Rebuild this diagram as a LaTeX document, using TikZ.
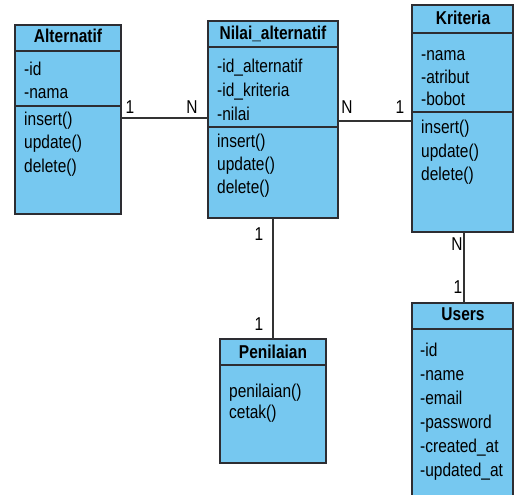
\documentclass[tikz,border=0pt]{standalone}
\usepackage{fontspec}
\usepackage{graphicx}
\setmainfont{Liberation Sans}
\definecolor{boxfill}{RGB}{118,200,240}
\definecolor{boxline}{RGB}{45,45,50}
\definecolor{linkline}{RGB}{50,50,50}
% text in the diagram is set slightly taller than its natural shape
\newcommand\tallText[1]{\scalebox{1}[1.2]{#1}}
\begin{document}
\begin{tikzpicture}[x=1pt,y=-1pt,
  classbox/.style={draw=boxline, fill=boxfill, line width=1.4pt, rectangle,
                   anchor=north west, inner sep=0pt, outer sep=0pt},
  divider/.style={draw=boxline, line width=1.4pt},
  title/.style={anchor=base, inner sep=0pt, font=\fontsize{15.5}{18}\selectfont\bfseries},
  member/.style={anchor=base west, inner sep=0pt, font=\fontsize{15.5}{18}\selectfont},
  mult/.style={anchor=base, inner sep=0pt, font=\fontsize{15.5}{18}\selectfont},
  link/.style={draw=linkline, line width=1.2pt}]
\useasboundingbox (0,0) rectangle (514,495);
\clip (0,0) rectangle (514,495);
\fill[white] (0,0) rectangle (514,495);

% ---- Alternatif ----
\node[classbox, minimum width=106pt, minimum height=189pt] (alt) at (15,25) {};
\draw[divider] (alt.west |- 0,51) -- (alt.east |- 0,51);
\draw[divider] (alt.west |- 0,106) -- (alt.east |- 0,106);
\node[title] (alt-t) at (68,43) {\tallText{Alternatif}};
\node[member] (alt-a1) at (24,75) {\tallText{-id}};
\node[member] (alt-a2) at (24,98) {\tallText{-nama}};
\node[member] (alt-m1) at (24,125) {\tallText{insert()}};
\node[member] (alt-m2) at (24,148) {\tallText{update()}};
\node[member] (alt-m3) at (24,172) {\tallText{delete()}};

% ---- Nilai_alternatif ----
\node[classbox, minimum width=130pt, minimum height=197pt] (nil) at (208,21) {};
\draw[divider] (nil.west |- 0,47) -- (nil.east |- 0,47);
\draw[divider] (nil.west |- 0,127) -- (nil.east |- 0,127);
\node[title] (nil-t) at (273,40) {\tallText{Nilai\_alternatif}};
\node[member] (nil-a1) at (217,73) {\tallText{-id\_alternatif}};
\node[member] (nil-a2) at (217,96) {\tallText{-id\_kriteria}};
\node[member] (nil-a3) at (217,120) {\tallText{-nilai}};
\node[member] (nil-m1) at (217,147) {\tallText{insert()}};
\node[member] (nil-m2) at (217,170) {\tallText{update()}};
\node[member] (nil-m3) at (217,193) {\tallText{delete()}};

% ---- Kriteria ----
\node[classbox, minimum width=101pt, minimum height=227pt] (kri) at (412,5) {};
\draw[divider] (kri.west |- 0,33) -- (kri.east |- 0,33);
\draw[divider] (kri.west |- 0,112) -- (kri.east |- 0,112);
\node[title] (kri-t) at (463,25) {\tallText{Kriteria}};
\node[member] (kri-a1) at (421,60) {\tallText{-nama}};
\node[member] (kri-a2) at (421,83) {\tallText{-atribut}};
\node[member] (kri-a3) at (421,106) {\tallText{-bobot}};
\node[member] (kri-m1) at (421,133) {\tallText{insert()}};
\node[member] (kri-m2) at (421,157) {\tallText{update()}};
\node[member] (kri-m3) at (421,180) {\tallText{delete()}};

% ---- Penilaian ----
\node[classbox, minimum width=106pt, minimum height=124pt] (pen) at (220,339) {};
\draw[divider] (pen.west |- 0,365) -- (pen.east |- 0,365);
\node[title] (pen-t) at (273,358) {\tallText{Penilaian}};
\node[member] (pen-m1) at (229,397) {\tallText{penilaian()}};
\node[member] (pen-m2) at (229,418) {\tallText{cetak()}};

% ---- Users ----
\node[classbox, minimum width=101pt, minimum height=210pt] (usr) at (412,303) {};
\draw[divider] (usr.west |- 0,329) -- (usr.east |- 0,329);
\node[title] (usr-t) at (463,320) {\tallText{Users}};
\node[member] (usr-a1) at (420,356) {\tallText{-id}};
\node[member] (usr-a2) at (420,380) {\tallText{-name}};
\node[member] (usr-a3) at (420,404) {\tallText{-email}};
\node[member] (usr-a4) at (420,428) {\tallText{-password}};
\node[member] (usr-a5) at (420,452) {\tallText{-created\_at}};
\node[member] (usr-a6) at (420,476) {\tallText{-updated\_at}};

% ---- associations ----
\draw[link] ([yshift=1.5pt]alt.east) -- ([yshift=1.5pt]alt.east -| nil.west);
\draw[link] ([yshift=-1.5pt]nil.east) -- ([yshift=-1.5pt]nil.east -| kri.west);
\draw[link] (nil.south) -- (pen.north);
\draw[link] ([xshift=1.5pt]kri.south) -- ([xshift=1.5pt]kri.south |- usr.north);

% ---- multiplicities ----
\node[mult] (m-alt) at (130,113) {\tallText{1}};
\node[mult] (m-nil1) at (192,113) {\tallText{N}};
\node[mult] (m-nil2) at (347,113) {\tallText{N}};
\node[mult] (m-kri) at (400,113) {\tallText{1}};
\node[mult] (m-nil3) at (259,240) {\tallText{1}};
\node[mult] (m-pen) at (259,330) {\tallText{1}};
\node[mult] (m-kri2) at (457,250) {\tallText{N}};
\node[mult] (m-usr) at (458,293) {\tallText{1}};
\end{tikzpicture}
\end{document}
